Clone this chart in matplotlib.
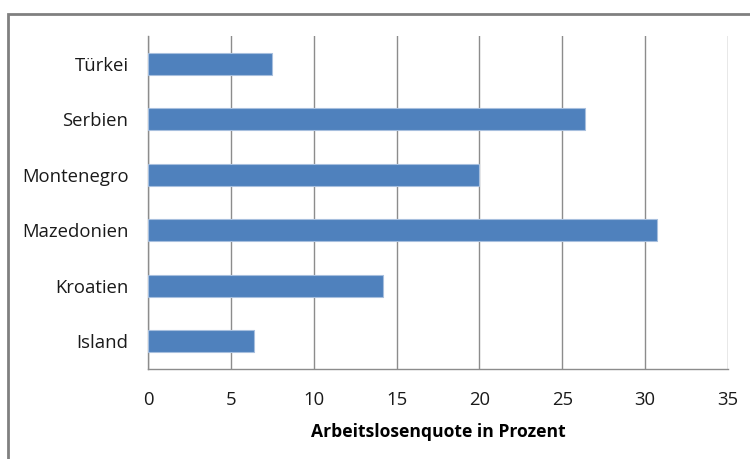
import matplotlib.pyplot as plt
import matplotlib.patches as patches

laender = ['Island', 'Kroatien', 'Mazedonien', 'Montenegro', 'Serbien', 'Türkei']
quote = [6.4, 14.2, 30.7, 20.0, 26.4, 7.5]
xticks = [0, 5, 10, 15, 20, 25, 30, 35]

plt.rcParams['font.family'] = ['Open Sans', 'DejaVu Sans']

fig = plt.figure(figsize=(7.5, 4.59), dpi=100)
ax = fig.add_axes([148/750, 1-369/459, 580/750, 333/459])

ax.barh(laender, quote, height=0.4, color='#4f81bd', edgecolor='#a7bfde', linewidth=0.8, zorder=3)

ax.set_xlim(0, 35)
ax.set_ylim(-0.5, 5.5)
ax.set_xticks(xticks)
ax.grid(axis='x', color='#8c8c8c', linewidth=1, zorder=0)
for s in ['top', 'right']:
    ax.spines[s].set_visible(False)
for s in ['left', 'bottom']:
    ax.spines[s].set_color('#8c8c8c')
    ax.spines[s].set_linewidth(1)
ax.tick_params(axis='both', length=0, labelsize=13.3, colors='#1a1a1a')
ax.tick_params(axis='y', pad=14)
ax.tick_params(axis='x', pad=16)
ax.set_xlabel('Arbeitslosenquote in Prozent', fontsize=12.6, fontweight='bold', labelpad=10)

# Rahmen des Diagramms
rahmen = patches.Rectangle((8/750, -0.1), 2, 1 - 14/459 + 0.1, transform=fig.transFigure,
                           fill=False, edgecolor='#808080', linewidth=2)
fig.patches.append(rahmen)

fig.savefig('out.png', dpi=100)
